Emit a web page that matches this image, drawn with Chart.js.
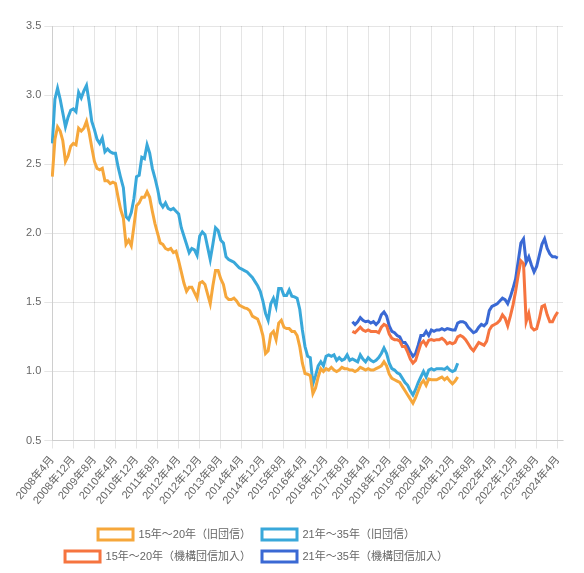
<!DOCTYPE html>
<html lang="ja">
<head>
<meta charset="utf-8">
<title>フラット35 金利推移</title>
<script src="https://cdn.jsdelivr.net/npm/chart.js@4.4.1/dist/chart.umd.min.js"></script>
<style>
  html, body { margin: 0; padding: 0; background: #fff; }
  #wrap { width: 584px; height: 573px; }
</style>
</head>
<body>
<div id="wrap"><canvas id="rates"></canvas></div>
<script>
// monthly categories, 2008年4月 .. 2024年6月 (last two months have no figures yet)
var months = [];
for (var y = 2008, m = 4; y < 2024 || (y === 2024 && m <= 6); m++) {
    if (m > 12) { m = 1; y++; }
    months.push(y + "年" + m + "月");
}
var tickEvery = 8;

var seriesNames = ["15年～20年（旧団信）", "21年～35年（旧団信）", "15年～20年（機構団信加入）", "21年～35年（機構団信加入）"];
var lineColors = ["#f6a73b", "#39a8da", "#f6743f", "#3a69d4"];

// 旧団信: 2008年4月 .. 2021年2月
var oldShort = [
    2.41, 2.68, 2.77, 2.74, 2.67, 2.52, 2.56, 2.63, 2.65, 2.64,
    2.76, 2.74, 2.76, 2.81, 2.73, 2.62, 2.52, 2.47, 2.46, 2.47,
    2.38, 2.38, 2.36, 2.37, 2.36, 2.26, 2.17, 2.11, 1.92, 1.95,
    1.91, 2.05, 2.20, 2.22, 2.26, 2.26, 2.30, 2.26, 2.16, 2.07,
    2.00, 1.93, 1.92, 1.89, 1.88, 1.89, 1.86, 1.87, 1.80, 1.72,
    1.64, 1.58, 1.61, 1.61, 1.57, 1.53, 1.64, 1.65, 1.63, 1.56,
    1.49, 1.62, 1.73, 1.73, 1.67, 1.63, 1.54, 1.52, 1.52, 1.53,
    1.51, 1.48, 1.47, 1.46, 1.455, 1.44, 1.40, 1.39, 1.38, 1.33,
    1.26, 1.13, 1.15, 1.27, 1.29, 1.23, 1.35, 1.37, 1.32, 1.31,
    1.31, 1.29, 1.29, 1.26, 1.18, 1.06, 0.985, 0.98, 0.97, 0.84,
    0.88, 0.96, 1.02, 1.00, 1.02, 1.01, 1.03, 1.01, 1.00, 1.01,
    1.03, 1.02, 1.02, 1.01, 1.01, 1.00, 1.01, 1.03, 1.02, 1.01,
    1.02, 1.01, 1.01, 1.02, 1.03, 1.04, 1.07, 1.04, 0.98, 0.95,
    0.94, 0.93, 0.92, 0.89, 0.86, 0.83, 0.80, 0.77, 0.81, 0.86,
    0.91, 0.935, 0.90, 0.945, 0.94, 0.94, 0.94, 0.95, 0.96, 0.94,
    0.955, 0.93, 0.91, 0.93, 0.96
];
var oldLong = [
    2.65, 2.97, 3.05, 2.97, 2.87, 2.77, 2.84, 2.89, 2.90, 2.88,
    3.02, 2.98, 3.03, 3.07, 2.95, 2.81, 2.75, 2.68, 2.65, 2.69,
    2.59, 2.61, 2.59, 2.58, 2.58, 2.48, 2.40, 2.33, 2.12, 2.10,
    2.15, 2.25, 2.41, 2.42, 2.55, 2.54, 2.64, 2.58, 2.47, 2.40,
    2.32, 2.22, 2.19, 2.22, 2.18, 2.17, 2.18, 2.16, 2.14, 2.04,
    1.98, 1.92, 1.86, 1.89, 1.88, 1.84, 1.98, 2.01, 1.99, 1.90,
    1.81, 1.92, 2.04, 2.02, 1.95, 1.93, 1.83, 1.81, 1.80, 1.79,
    1.77, 1.75, 1.74, 1.73, 1.72, 1.70, 1.68, 1.65, 1.62, 1.58,
    1.51, 1.42, 1.37, 1.49, 1.53, 1.47, 1.60, 1.60, 1.55, 1.55,
    1.59, 1.545, 1.54, 1.53, 1.45, 1.30, 1.18, 1.11, 1.10, 0.91,
    0.97, 1.04, 1.07, 1.04, 1.11, 1.12, 1.11, 1.12, 1.08, 1.10,
    1.08, 1.09, 1.12, 1.08, 1.09, 1.08, 1.07, 1.12, 1.09, 1.07,
    1.10, 1.08, 1.07, 1.08, 1.10, 1.13, 1.17, 1.13, 1.06, 1.02,
    1.01, 0.99, 0.98, 0.95, 0.92, 0.90, 0.86, 0.83, 0.87, 0.92,
    0.96, 1.00, 0.96, 1.01, 1.02, 1.01, 1.02, 1.02, 1.02, 1.015,
    1.03, 1.01, 1.00, 1.01, 1.06
];

// 機構団信加入: 2017年10月 .. 2024年4月
var newStart = "2017年10月";
var newShort = [
    1.29, 1.28, 1.30, 1.32, 1.30, 1.29, 1.30, 1.29, 1.29, 1.29,
    1.28, 1.32, 1.34, 1.33, 1.27, 1.24, 1.23, 1.23, 1.22, 1.18,
    1.18, 1.14, 1.09, 1.06, 1.08, 1.14, 1.20, 1.22, 1.19, 1.225,
    1.23, 1.225, 1.23, 1.23, 1.24, 1.225, 1.20, 1.21, 1.20, 1.21,
    1.25, 1.26, 1.25, 1.23, 1.20, 1.17, 1.15, 1.18, 1.21, 1.20,
    1.19, 1.22, 1.30, 1.33, 1.34, 1.35, 1.37, 1.41, 1.385, 1.33,
    1.40, 1.48, 1.58, 1.70, 1.80, 1.78, 1.36, 1.42, 1.32, 1.30,
    1.31, 1.38, 1.47, 1.48, 1.41, 1.36, 1.36, 1.40, 1.43
];
var newLong = [
    1.36, 1.34, 1.36, 1.39, 1.37, 1.36, 1.365, 1.35, 1.36, 1.34,
    1.36, 1.41, 1.43, 1.40, 1.33, 1.29, 1.28, 1.26, 1.25, 1.21,
    1.21, 1.18, 1.14, 1.11, 1.13, 1.19, 1.26, 1.26, 1.29, 1.26,
    1.30, 1.29, 1.30, 1.30, 1.31, 1.30, 1.31, 1.305, 1.30, 1.30,
    1.35, 1.36, 1.36, 1.35, 1.32, 1.30, 1.28, 1.29, 1.32, 1.34,
    1.33, 1.35, 1.44, 1.47, 1.48, 1.49, 1.51, 1.53, 1.52, 1.49,
    1.54, 1.60, 1.67, 1.80, 1.93, 1.96, 1.79, 1.83, 1.77, 1.72,
    1.76, 1.84, 1.92, 1.96, 1.89, 1.85, 1.83, 1.83, 1.82
];

// line the later series up with the month axis
function fromMonth(start, values) {
    var lead = months.indexOf(start);
    var out = [];
    for (var i = 0; i < lead; i++) out.push(null);
    return out.concat(values);
}

var allSeries = [oldShort, oldLong, fromMonth(newStart, newShort), fromMonth(newStart, newLong)];

// legend block is narrower than the plot and sits a bit left of centre
var legendWidth = 467;
var narrowLegend = {
    id: "narrowLegend",
    beforeLayout: function(chart) {
        var lg = chart.legend;
        if (lg && !lg.narrowed) {
            var update = lg.update;
            lg.update = function(w, h, margins) {
                return update.call(this, Math.min(w, legendWidth), h, margins);
            };
            lg.narrowed = true;
        }
    },
    afterLayout: function(chart) {
        var lg = chart.legend;
        if (lg) {
            lg.right = lg.left + legendWidth;
            lg.width = legendWidth;
        }
    }
};

Chart.defaults.font.family = "'Helvetica Neue', Helvetica, Arial, 'Noto Sans CJK JP', sans-serif";
Chart.defaults.font.size = 11;
Chart.defaults.color = "#666";

new Chart(document.getElementById("rates"), {
    type: "line",
    data: {
        labels: months,
        datasets: allSeries.map(function(vals, i) {
            return {
                label: seriesNames[i],
                data: vals,
                borderColor: lineColors[i],
                backgroundColor: "#fff",
                borderWidth: 3,
                pointRadius: 0,
                fill: false,
                tension: 0
            };
        })
    },
    plugins: [narrowLegend],
    options: {
        responsive: true,
        maintainAspectRatio: false,
        animation: false,
        layout: { padding: { top: 26, right: 21, left: 23, bottom: 1 } },
        plugins: {
            legend: {
                position: "bottom",
                labels: { boxWidth: 35, padding: 11 }
            },
            tooltip: { enabled: false }
        },
        scales: {
            x: {
                afterFit: function(scale) { scale.height += 6; },
                ticks: {
                    autoSkip: false,
                    padding: 5,
                    minRotation: 50,
                    maxRotation: 50,
                    // null hides the label and its grid line
                    callback: function(val, idx) {
                        return idx % tickEvery === 0 ? this.getLabelForValue(val) : null;
                    }
                }
            },
            y: {
                min: 0.5,
                max: 3.5,
                ticks: { stepSize: 0.5, callback: function(v) { return v.toFixed(1); } }
            }
        }
    }
});
</script>
</body>
</html>
